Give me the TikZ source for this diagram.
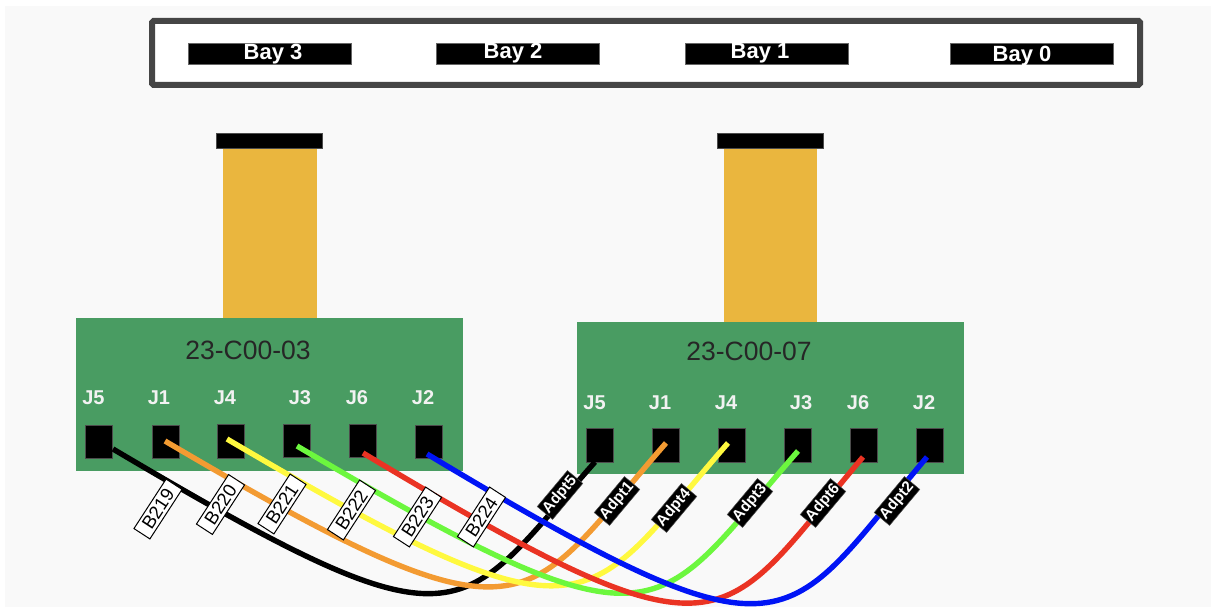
\documentclass[tikz,border=0pt]{standalone}
\usepackage{fontspec}
\setmainfont{Liberation Sans}
\usepackage{tikz}
\usetikzlibrary{positioning}
\definecolor{panel}{HTML}{F9F9F9}
\definecolor{framegray}{HTML}{454545}
\definecolor{boardgreen}{HTML}{499C62}
\definecolor{traytan}{HTML}{EAB63E}
\definecolor{cordorange}{HTML}{F39B32}
\definecolor{cordyellow}{HTML}{FFF93F}
\definecolor{cordgreen}{HTML}{6CF73E}
\definecolor{cordred}{HTML}{EA3323}
\definecolor{cordblue}{HTML}{0014F5}
\tikzset{
  box/.style={draw=none,inner sep=0pt,outer sep=0pt,anchor=north west},
  port/.style={box,fill=black,draw=black!70,line width=.8pt,minimum width=27pt,minimum height=33.5pt},
  bay/.style={box,fill=black,draw=black!60,line width=.8pt,minimum width=163pt,minimum height=21pt},
  baytext/.style={text=white,font=\fontsize{22}{22}\selectfont\bfseries,inner sep=0pt,anchor=base},
  jtext/.style={text=white!95!black,font=\fontsize{20}{20}\selectfont\bfseries,inner sep=0pt},
  boardtext/.style={text=black!85,font=\fontsize{26.5}{26.5}\selectfont,inner sep=0pt},
  cord/.style={line width=5.4pt},
  tag/.style={fill=white,draw=black,line width=1pt,rotate=57,inner sep=0pt,minimum width=59pt,minimum height=19pt,font=\fontsize{18.5}{18.5}\selectfont},
  adpt/.style={fill=black,draw=black!70,line width=.5pt,rotate=50,inner sep=0pt,minimum width=47pt,minimum height=20pt,text=white,font=\fontsize{15.5}{15.5}\selectfont\bfseries}
}
\begin{document}
\begin{tikzpicture}[x=1pt,y=-1pt]
    \useasboundingbox (0,0) rectangle (1211,609);
    \fill[panel] (5,6) rectangle (1211,607);
    %bays
    \draw[framegray,fill=white,line width=6pt,rounded corners=1.5pt] (152,21) rectangle (1140,85);
    \node[bay] (bay3) at (188,43) {};
    \node[bay] (bay2) at (436.5,43) {};
    \node[bay] (bay1) at (685,43) {};
    \node[bay] (bay0) at (950,43) {};
    \node[baytext] (t3) at (273,59.5) {Bay 3};
    \node[baytext] (t2) at (513,59) {Bay 2};
    \node[baytext] (t1) at (760,58.5) {Bay 1};
    \node[baytext] (t0) at (1022,62) {Bay 0};
    %trays
    \node[box,fill=traytan,minimum width=93.5pt,minimum height=186pt] (trayl) at (223,133) {};
    \node[box,fill=traytan,minimum width=93.5pt,minimum height=190pt] (trayr) at (723.5,133) {};
    \node[port,minimum width=106pt,minimum height=15pt] (capl) at (216.5,133.5) {};
    \node[port,minimum width=106pt,minimum height=15pt] (capr) at (717.5,133.5) {};
    %boards
    \node[box,fill=boardgreen,minimum width=387pt,minimum height=153pt] (boardl) at (76,318) {};
    \node[box,fill=boardgreen,minimum width=387pt,minimum height=152pt] (boardr) at (577,322) {};
    \node[boardtext] (namel) at (248,350) {23-C00-03};
    \node[boardtext] (namer) at (749,351) {23-C00-07};
    %ports
    \node[port] (l5) at (85.5,425) {};
    \node[port] (l1) at (152,425) {};
    \node[port] (l4) at (217.5,424.5) {};
    \node[port] (l3) at (283,424) {};
    \node[port] (l6) at (349,424) {};
    \node[port] (l2) at (415,425) {};
    \node[port] (r5) at (586.5,428.5) {};
    \node[port] (r1) at (652.5,428.5) {};
    \node[port] (r4) at (718.5,428.5) {};
    \node[port] (r3) at (784.5,428.5) {};
    \node[port] (r6) at (850.5,428.5) {};
    \node[port] (r2) at (916,428.5) {};
    \node[jtext] (jl5) at (93.5,398) {J5};
    \node[jtext] (jl1) at (159,398) {J1};
    \node[jtext] (jl4) at (225,398) {J4};
    \node[jtext] (jl3) at (300,398) {J3};
    \node[jtext] (jl6) at (357,398) {J6};
    \node[jtext] (jl2) at (423,398) {J2};
    \node[jtext] (jr5) at (594.5,402.5) {J5};
    \node[jtext] (jr1) at (660,402.5) {J1};
    \node[jtext] (jr4) at (726,402.5) {J4};
    \node[jtext] (jr3) at (801,402.5) {J3};
    \node[jtext] (jr6) at (858,402.5) {J6};
    \node[jtext] (jr2) at (924,402.5) {J2};
    %cable ends
    \coordinate (cl5) at (113,449);
    \coordinate (cl1) at (165,441);
    \coordinate (cl4) at (227,439);
    \coordinate (cl3) at (297,446);
    \coordinate (cl6) at (363,453);
    \coordinate (cl2) at (427,454);
    \coordinate (cr5) at (595,462);
    \coordinate (cr1) at (666,443);
    \coordinate (cr4) at (728,443);
    \coordinate (cr3) at (798,451);
    \coordinate (cr6) at (863,457);
    \coordinate (cr2) at (927,457);
    %cables
    \draw[cord,black] (cl5) .. controls +(355,210) and +(-140,158) .. (cr5);
    \draw[cord,cordorange] (cl1) .. controls +(370,218) and +(-146,167) .. (cr1);
    \draw[cord,cordyellow] (cl4) .. controls +(370,218) and +(-146,167) .. (cr4);
    \draw[cord,cordgreen] (cl3) .. controls +(370,218) and +(-146,167) .. (cr3);
    \draw[cord,cordred] (cl6) .. controls +(370,222) and +(-146,172) .. (cr6);
    \draw[cord,cordblue] (cl2) .. controls +(370,222) and +(-146,172) .. (cr2);
    %tags
    \node[tag] (b219) at (158,509) {B219};
    \node[tag] (b220) at (220.5,504.5) {B220};
    \node[tag] (b221) at (282,504) {B221};
    \node[tag] (b222) at (351.5,510) {B222};
    \node[tag] (b223) at (417.5,517) {B223};
    \node[tag] (b224) at (481.5,517) {B224};
    \node[adpt] (a5) at (560,495) {Adpt5};
    \node[adpt] (a1) at (617,501) {Adpt1};
    \node[adpt] (a4) at (674,508) {Adpt4};
    \node[adpt] (a3) at (750,503) {Adpt3};
    \node[adpt] (a6) at (823,503) {Adpt6};
    \node[adpt] (a2) at (897,501) {Adpt2};
\end{tikzpicture}
\end{document}
